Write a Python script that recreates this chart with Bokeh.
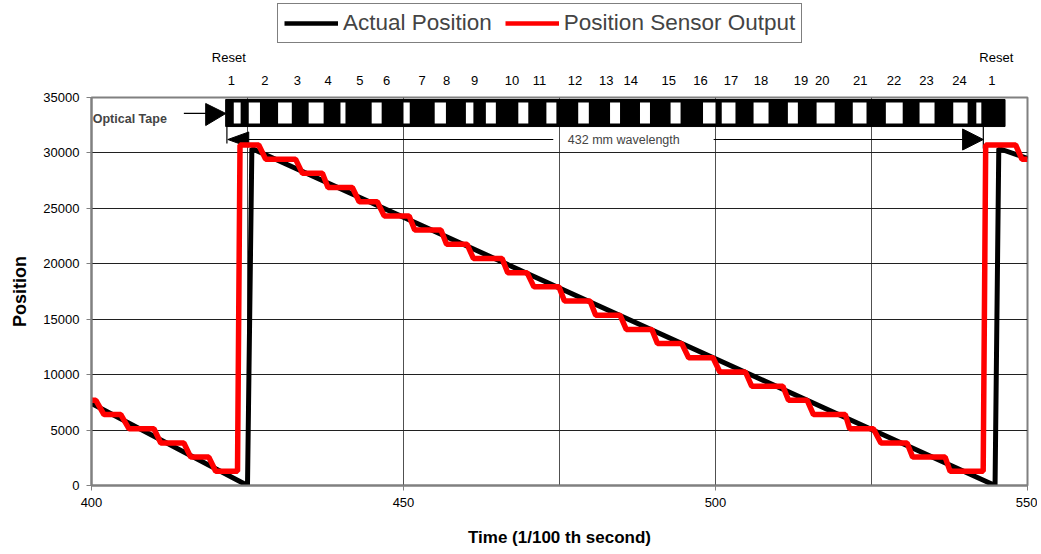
from bokeh.plotting import figure
from bokeh.models import Range1d, FixedTicker, Label, Legend, LegendItem
from bokeh.layouts import column
from bokeh.core.properties import value
from bokeh.embed import file_html
from bokeh.resources import INLINE

# ---------------- data ----------------
time_ticks = [400, 450, 500, 550]
time_grid = [425, 450, 475, 500, 525]
position_ticks = [0, 5000, 10000, 15000, 20000, 25000, 30000, 35000]
position_grid = [5000, 10000, 15000, 20000, 25000, 30000]

actual_time = [400.0, 425.0, 425.7, 544.8, 545.4, 550.0]
actual_position = [7400, 0, 30400, 0, 30400, 29500]

sensor_time = [400.0, 400.7, 402.0, 404.7, 406.0, 410.0, 411.1, 414.8, 415.9, 418.8,
               419.9, 423.4, 423.8, 426.8, 427.9, 432.7, 433.8, 437.0, 437.9, 441.8,
               442.9, 445.8, 446.9, 450.9, 451.8, 456.0, 456.9, 460.2, 461.2, 465.8,
               466.7, 469.8, 470.9, 474.9, 475.8, 479.9, 480.8, 484.7, 485.7, 489.8,
               490.7, 494.6, 495.7, 499.6, 500.7, 504.8, 505.8, 510.8, 511.7, 514.7,
               515.7, 520.8, 521.5, 525.3, 526.5, 530.7, 531.6, 536.8, 537.6, 542.9,
               543.3, 548.1, 549.1, 550.0]
sensor_position = [7680, 7680, 6400, 6400, 5120, 5120, 3840, 3840, 2560, 2560,
                   1280, 1280, 30720, 30720, 29440, 29440, 28160, 28160, 26880, 26880,
                   25600, 25600, 24320, 24320, 23040, 23040, 21760, 21760, 20480, 20480,
                   19200, 19200, 17920, 17920, 16640, 16640, 15360, 15360, 14080, 14080,
                   12800, 12800, 11520, 11520, 10240, 10240, 8960, 8960, 7680, 7680,
                   6400, 6400, 5120, 5120, 3840, 3840, 2560, 2560, 1280, 1280,
                   30720, 30720, 29440, 29440]

stripe_labels = ["1", "2", "3", "4", "5", "6", "7", "8", "9", "10", "11", "12", "13",
                 "14", "15", "16", "17", "18", "19", "20", "21", "22", "23", "24", "1"]
stripe_label_time = [422.4, 427.8, 433.0, 437.9, 443.0, 447.3, 453.0, 456.9, 461.4,
                     467.4, 471.8, 477.5, 482.5, 486.4, 492.5, 497.6, 502.5, 507.3,
                     513.7, 517.1, 523.2, 528.6, 533.8, 539.1, 544.3]
reset_labels = ["Reset", "Reset"]
reset_time = [422.0, 545.0]

# ---------------- annotation geometry (data units) ----------------
tape_left, tape_right = 421.5, 546.4
tape_bottom, tape_top = 32380, 34820
white_left = [422.8, 425.2, 429.9, 434.8, 439.9, 444.9, 450.0, 455.0, 460.0, 463.2,
              468.4, 472.9, 478.0, 483.1, 487.9, 492.8, 498.0, 501.0, 506.1, 511.6,
              516.2, 522.0, 527.3, 532.7, 538.1, 541.8]
white_right = [423.9, 427.0, 432.1, 437.2, 440.7, 446.5, 451.0, 456.8, 461.2, 464.8,
               470.0, 474.5, 479.7, 484.7, 489.5, 494.4, 500.0, 503.2, 508.5, 513.2,
               519.1, 524.2, 530.0, 535.1, 540.4, 542.6]
white_bottom, white_top = 32650, 34550
wave_y = 31210

FONT = "Liberation Sans"
W = 1037
LEFT, RIGHT = 91, 10
TOP_H = 88

x_range = Range1d(400, 550)

# ---------------- header strip (legend, stripe numbers, resets) ----------------
top = figure(width=W, height=TOP_H, output_backend="svg", toolbar_location=None,
             x_range=x_range, y_range=Range1d(TOP_H, 0),
             x_axis_type=None, y_axis_type=None,
             min_border_left=LEFT, min_border_right=RIGHT,
             min_border_top=0, min_border_bottom=0,
             background_fill_color="white", border_fill_color="white")
top.outline_line_color = None
top.xgrid.visible = False
top.ygrid.visible = False

top.text(x=stripe_label_time, y=[80] * len(stripe_labels), text=stripe_labels,
         text_font=value(FONT), text_font_size="13px", text_color="black",
         text_align="center", text_baseline="middle")
top.text(x=reset_time, y=[57] * len(reset_labels), text=reset_labels,
         text_font=value(FONT), text_font_size="13px", text_color="black",
         text_align="center", text_baseline="middle")

# off-screen stand-ins so the legend can draw its line samples
leg_actual = top.line(x=[400, 401], y=[-500, -500], line_color="black", line_width=4.5)
leg_sensor = top.line(x=[400, 401], y=[-500, -500], line_color="#ff0000", line_width=4.5)
legend = Legend(items=[LegendItem(label="Actual Position", renderers=[leg_actual]),
                       LegendItem(label="Position Sensor Output", renderers=[leg_sensor])],
                orientation="horizontal", location=(186, 45),
                label_text_font=FONT, label_text_font_size="22.5px",
                glyph_width=54, glyph_height=22, label_standoff=5, spacing=13,
                padding=6, margin=0, border_line_color="black", border_line_width=1,
                background_fill_color="white", background_fill_alpha=1.0)
top.add_layout(legend)

# ---------------- main chart ----------------
p = figure(width=W, height=464, output_backend="svg", toolbar_location=None,
           x_range=x_range, y_range=Range1d(0, 35000),
           min_border_left=LEFT, min_border_right=RIGHT, min_border_top=9,
           min_border_bottom=67, background_fill_color="white",
           border_fill_color="white")

p.outline_line_color = "#808080"
p.outline_line_width = 2

p.xgrid.ticker = FixedTicker(ticks=time_grid)
p.ygrid.ticker = FixedTicker(ticks=position_grid)
p.xgrid.grid_line_color = "#505050"
p.ygrid.grid_line_color = "#202020"

p.xaxis.ticker = FixedTicker(ticks=time_ticks)
p.yaxis.ticker = FixedTicker(ticks=position_ticks)
for ax in (p.xaxis[0], p.yaxis[0]):
    ax.axis_line_color = "#808080"
    ax.axis_line_width = 2
    ax.major_tick_line_color = "#808080"
    ax.major_tick_out = 5
    ax.major_tick_in = 0
    ax.minor_tick_line_color = None
    ax.major_label_text_font = FONT
    ax.major_label_text_font_size = "13px"
    ax.major_label_text_color = "black"
    ax.axis_label_text_font = FONT
    ax.axis_label_text_font_style = "bold"
    ax.axis_label_text_color = "black"
    ax.major_label_standoff = 7
p.xaxis.axis_label = "Time (1/100 th second)"
p.yaxis.axis_label = "Position"
p.xaxis.axis_label_text_font_size = "17px"
p.yaxis.axis_label_text_font_size = "18px"
p.xaxis.axis_label_standoff = 18
p.yaxis.axis_label_standoff = 10

# optical tape
p.quad(left=[tape_left], right=[tape_right], bottom=[tape_bottom], top=[tape_top],
       fill_color="black", line_color="black")
p.quad(left=white_left, right=white_right, bottom=white_bottom, top=white_top,
       fill_color="white", line_color=None)

# arrows
p.multi_line(xs=[[414.8, 418.5], [421.85, 474.0], [499.7, 542.9],
                 [421.7, 421.7], [542.92, 542.92]],
             ys=[[33560, 33560], [wave_y, wave_y], [wave_y, wave_y],
                 [32380, 30850], [32380, 30400]],
             line_color="black", line_width=1.2)
p.patches(xs=[[418.3, 421.53, 418.3], [425.2, 421.85, 425.2], [539.6, 542.92, 539.6]],
          ys=[[34460, 33560, 32470], [31890, wave_y, 30530], [32160, wave_y, 30260]],
          fill_color="black", line_color="black")

# data lines
p.line(actual_time, actual_position, line_color="black", line_width=5)
p.line(sensor_time, sensor_position, line_color="#ff0000", line_width=5.5)

p.add_layout(Label(x=400.2, y=33050, text="Optical Tape", text_font=FONT,
                   text_font_style="bold", text_font_size="12.5px",
                   text_baseline="middle", text_align="left"))
p.add_layout(Label(x=485.3, y=wave_y, text="432 mm wavelength", text_font=FONT,
                   text_font_size="12.5px", text_baseline="middle", text_align="center"))

layout = column(top, p, spacing=0)
open("out.html", "w").write(file_html(layout, INLINE))
